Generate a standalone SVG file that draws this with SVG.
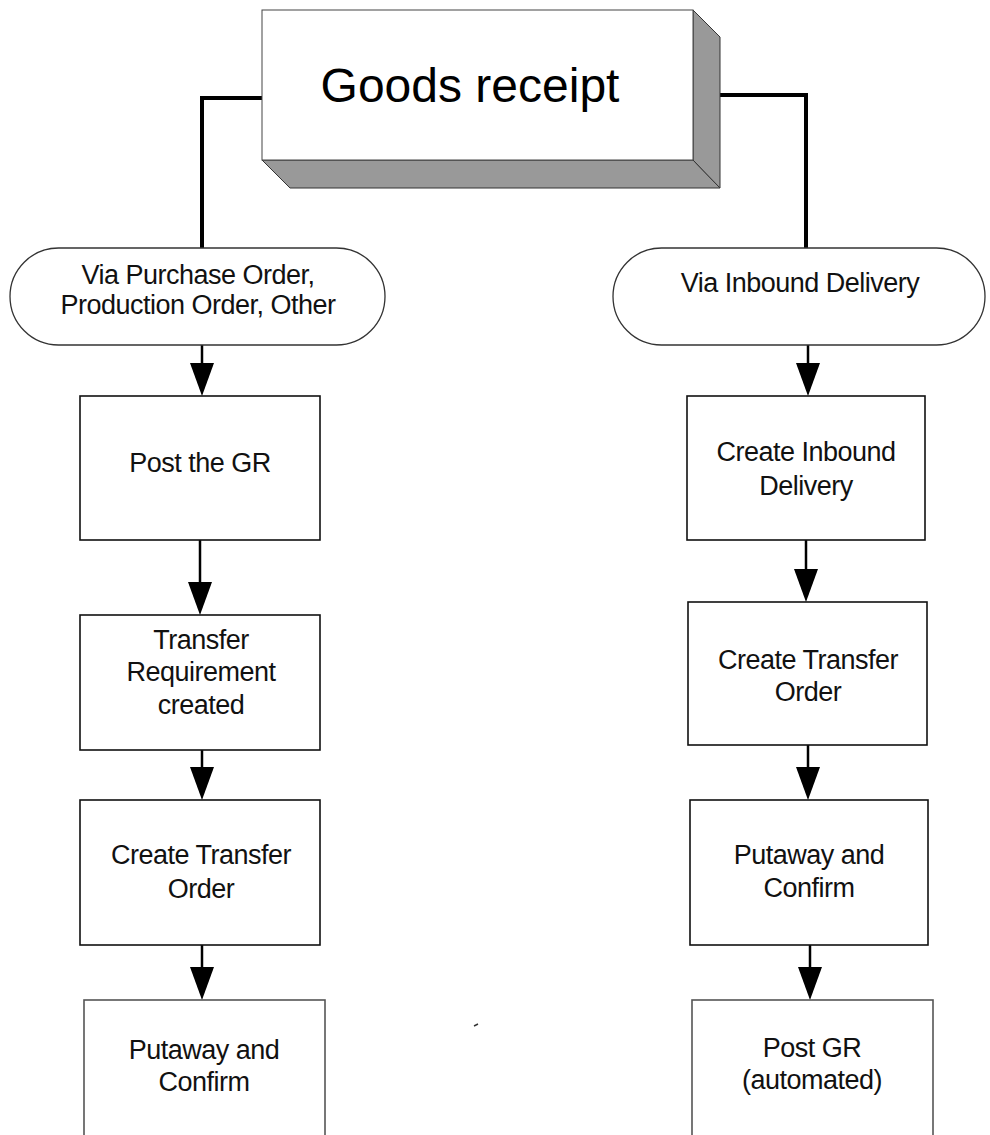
<svg xmlns="http://www.w3.org/2000/svg" width="990" height="1135" viewBox="0 0 990 1135">
  <style>
    .box { fill: #ffffff; stroke: #111111; stroke-width: 1.6; }
    .box.faint { stroke: #555555; }
    .pill { fill: #ffffff; stroke: #333333; stroke-width: 1.3; }
    .lbl { font-family: "Liberation Sans", Arial, sans-serif; font-size: 27px; fill: #111111; text-anchor: middle; letter-spacing: -0.5px; }
    .title { font-family: "Liberation Sans", Arial, sans-serif; font-size: 48px; fill: #000000; text-anchor: middle; }
    .wire { fill: none; stroke: #000000; stroke-width: 2.5; }
    .trunk { fill: none; stroke: #000000; stroke-width: 4; }
    .head { fill: #000000; }
  </style>
  <defs>
    <!-- downward arrowhead, tip at origin -->
    <polygon id="down" points="-12,-33 12,-33 0,0"/>
  </defs>
  <rect width="990" height="1135" fill="#ffffff"/>

  <!-- connectors -->
  <g id="connectors">
    <polyline class="trunk" points="262,98 202,98 202,250"/>
    <polyline class="trunk" points="720,95 806,95 806,250"/>
    <line class="wire" x1="202" y1="345" x2="202" y2="370"/>
    <use href="#down" class="head" x="202" y="396"/>
    <line class="wire" x1="200" y1="540" x2="200" y2="590"/>
    <use href="#down" class="head" x="200" y="615"/>
    <line class="wire" x1="202" y1="750" x2="202" y2="775"/>
    <use href="#down" class="head" x="202" y="800"/>
    <line class="wire" x1="202" y1="945" x2="202" y2="975"/>
    <use href="#down" class="head" x="202" y="1000"/>
    <line class="wire" x1="808" y1="345" x2="808" y2="370"/>
    <use href="#down" class="head" x="808" y="396"/>
    <line class="wire" x1="806" y1="540" x2="806" y2="575"/>
    <use href="#down" class="head" x="806" y="602"/>
    <line class="wire" x1="808" y1="745" x2="808" y2="772"/>
    <use href="#down" class="head" x="808" y="800"/>
    <line class="wire" x1="810" y1="945" x2="810" y2="972"/>
    <use href="#down" class="head" x="810" y="1000"/>
  </g>

  <!-- raised title block -->
  <g id="goods-receipt">
    <polygon points="262,160 693,160 720,188 290,188" fill="#999999" stroke="#333333" stroke-width="1"/>
    <polygon points="693,10 720,37 720,188 693,160" fill="#999999" stroke="#333333" stroke-width="1"/>
    <rect x="262" y="10" width="431" height="150" fill="#ffffff" stroke="#444444" stroke-width="1"/>
    <text class="title" x="470" y="102">Goods receipt</text>
  </g>

  <g id="via-po">
    <rect class="pill" x="10" y="248" width="375" height="97" rx="48.5"/>
    <text class="lbl" x="198" y="284">Via Purchase Order,</text>
    <text class="lbl" x="198" y="314">Production Order, Other</text>
  </g>

  <g id="via-inbound">
    <rect class="pill" x="613" y="248" width="372" height="97" rx="48.5"/>
    <text class="lbl" x="800" y="292">Via Inbound Delivery</text>
  </g>

  <g id="post-gr">
    <rect class="box" x="80" y="396" width="240" height="144"/>
    <text class="lbl" x="200" y="472">Post the GR</text>
  </g>

  <g id="transfer-requirement">
    <rect class="box" x="80" y="615" width="240" height="135"/>
    <text class="lbl" x="201" y="649">Transfer</text>
    <text class="lbl" x="201" y="681">Requirement</text>
    <text class="lbl" x="201" y="714">created</text>
  </g>

  <g id="create-to-left">
    <rect class="box" x="80" y="800" width="240" height="145"/>
    <text class="lbl" x="201" y="864">Create Transfer</text>
    <text class="lbl" x="201" y="898">Order</text>
  </g>

  <g id="putaway-left">
    <rect class="box faint" x="84" y="1000" width="241" height="145"/>
    <text class="lbl" x="204" y="1059">Putaway and</text>
    <text class="lbl" x="204" y="1091">Confirm</text>
  </g>

  <g id="create-inbound">
    <rect class="box" x="687" y="396" width="238" height="144"/>
    <text class="lbl" x="806" y="461">Create Inbound</text>
    <text class="lbl" x="806" y="495">Delivery</text>
  </g>

  <g id="create-to-right">
    <rect class="box" x="688" y="602" width="239" height="143"/>
    <text class="lbl" x="808" y="669">Create Transfer</text>
    <text class="lbl" x="808" y="701">Order</text>
  </g>

  <g id="putaway-right">
    <rect class="box" x="690" y="800" width="238" height="145"/>
    <text class="lbl" x="809" y="864">Putaway and</text>
    <text class="lbl" x="809" y="897">Confirm</text>
  </g>

  <g id="post-gr-auto">
    <rect class="box faint" x="692" y="1000" width="241" height="145"/>
    <text class="lbl" x="812" y="1057">Post GR</text>
    <text class="lbl" x="812" y="1089">(automated)</text>
  </g>

  <!-- small stray mark -->
  <path d="M474,1026 L478,1024" stroke="#333333" stroke-width="1.5"/>
</svg>
